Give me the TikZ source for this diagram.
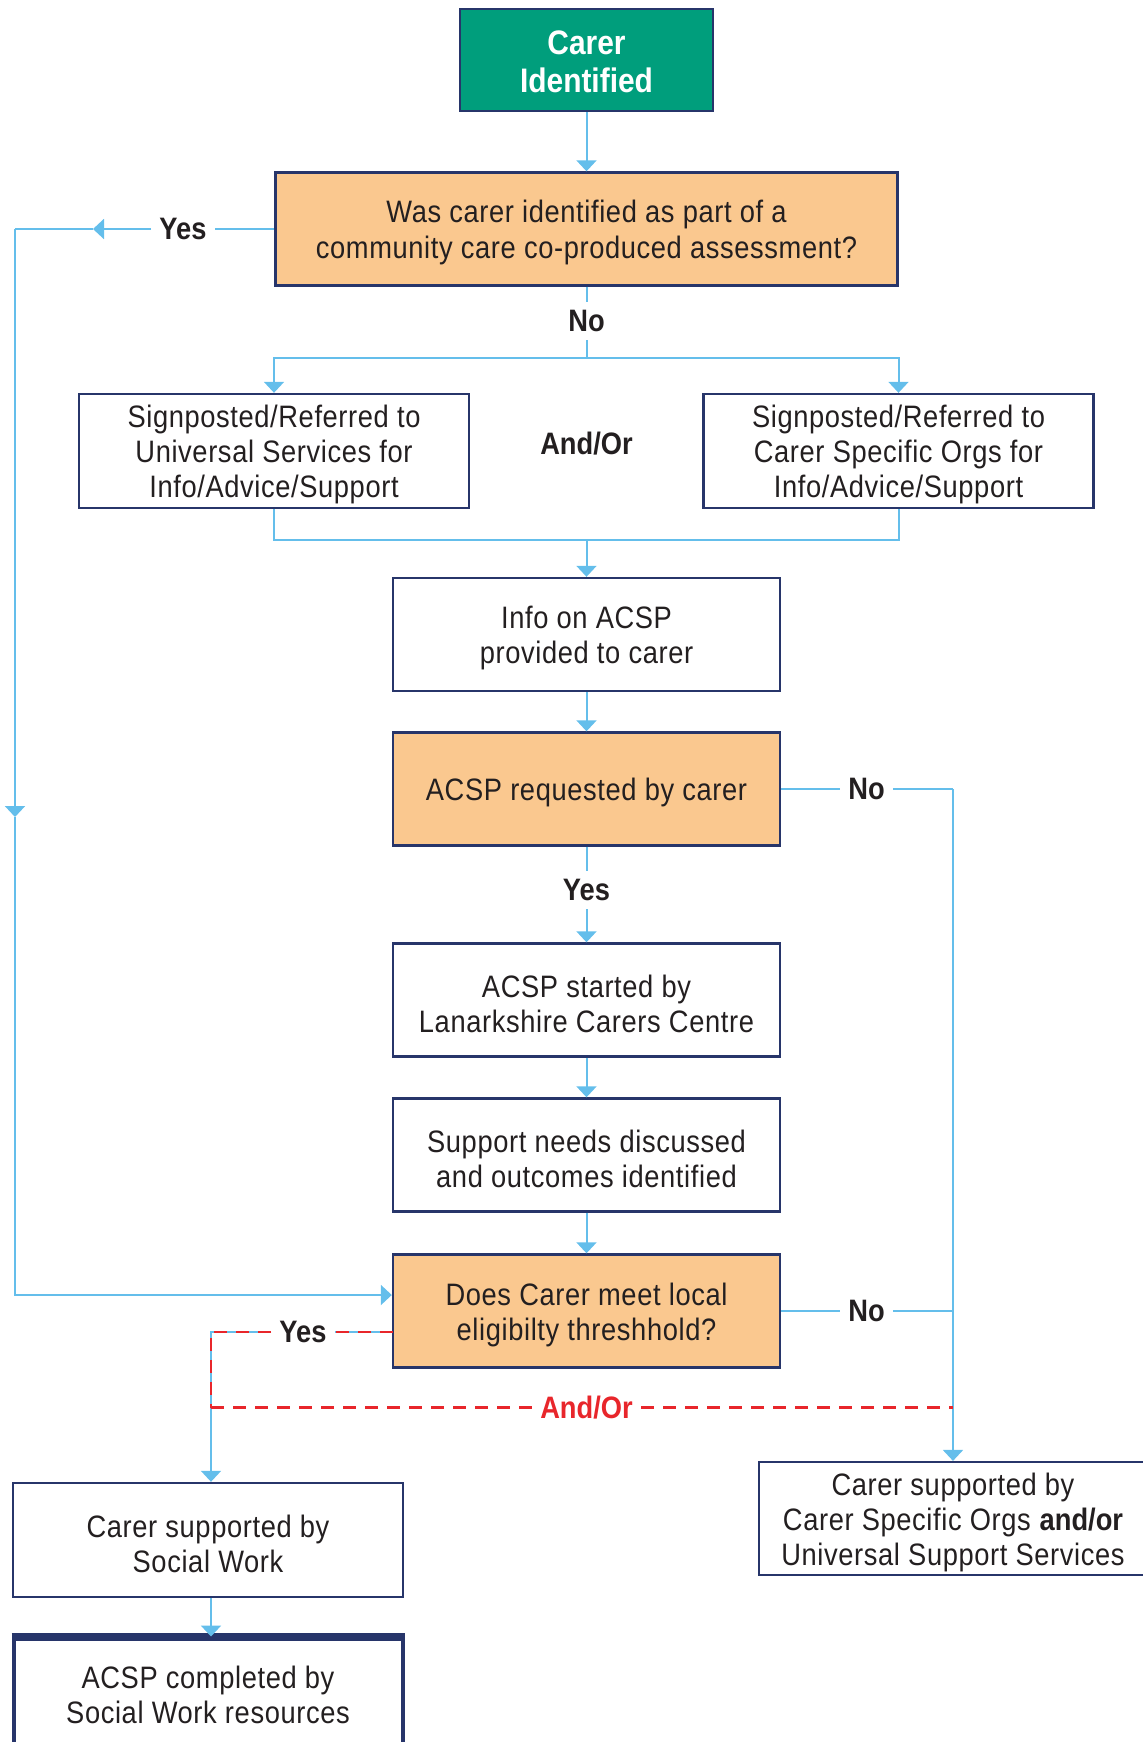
\documentclass[tikz,border=0pt]{standalone}
\usepackage{fontspec}
\setmainfont{Liberation Sans}[FakeStretch=0.88, UprightFeatures={LetterSpace=2}]
\usetikzlibrary{arrows.meta,calc}
\definecolor{navy}{HTML}{27356A}
\definecolor{lblue}{HTML}{64BEEB}
\definecolor{peach}{HTML}{FAC88F}
\definecolor{teal}{HTML}{009E7C}
\definecolor{ink}{HTML}{231F20}
\definecolor{dred}{HTML}{E8262B}
\newcommand\fst{\rule{0pt}{14.8pt}}
\tikzset{
  box/.style={draw=navy, line width=1.2pt, fill=white, align=center, inner sep=0pt,
    text=ink, font=\fontsize{15.5}{17.6}\selectfont,
    minimum width=193.5pt, minimum height=56.5pt},
  obox/.style={box, fill=peach},
  lbl/.style={font=\fontsize{15.5}{17.6}\selectfont\bfseries, text=ink, inner sep=4pt},
  conn/.style={draw=lblue, line width=1pt},
  arr/.style={-{Triangle[length=5.5pt,width=10pt]}},
  rdash/.style={draw=dred, line width=1.1pt, dash pattern=on 6.5pt off 4.5pt},
}
\begin{document}
\begin{tikzpicture}[x=0.5pt,y=-0.5pt]
\useasboundingbox (0,0) rectangle (1142,1742);

% nodes
\node[box, fill=teal, text=white, font=\fontsize{17}{19}\selectfont\bfseries,
  minimum width=126.5pt, minimum height=51pt] (b1) at (586.5,60) {\rule{0pt}{13.6pt}Carer\\Identified};
\node[obox, minimum width=311pt] (b2) at (586.5,229)
  {\fst Was carer identified as part of a\\community care co-produced assessment?};
\node[box, minimum width=195pt, minimum height=57pt] (b3a) at (274,451)
  {\fst Signposted/Referred to\\Universal Services for\\Info/Advice/Support};
\node[box, minimum width=195pt, minimum height=57pt] (b3b) at (898.5,451)
  {\fst Signposted/Referred to\\Carer Specific Orgs for\\Info/Advice/Support};
\node[lbl] (ao1) at (586.5,444) {And/Or};
\node[box] (b4) at (586.5,634.5) {\fst Info on ACSP\\provided to carer};
\node[obox] (b5) at (586.5,789) {\fst ACSP requested by carer};
\node[box] (b6) at (586.5,1000) {\fst ACSP started by\\Lanarkshire Carers Centre};
\node[box] (b7) at (586.5,1155) {\fst Support needs discussed\\and outcomes identified};
\node[obox] (b8) at (586.5,1311) {\fst Does Carer meet local\\eligibilty threshhold?};
\node[box, minimum width=195pt, minimum height=57pt] (b9) at (208,1540)
  {\fst Carer supported by\\Social Work};
\node[box, minimum width=194pt] (b10) at (953,1518.6)
  {\fst Carer supported by\\Carer Specific Orgs \textbf{and/or}\\Universal Support Services};
\node[box, line width=2pt, minimum width=194.5pt] (b11) at (208,1695)
  {ACSP completed by\\Social Work resources};
\draw[navy, line width=3.6pt] (b11.north west) -- (b11.north east);

% labels
\node[lbl] (yes1) at (183,229) {Yes};
\node[lbl] (no1) at (586.5,321) {No};
\node[lbl] (no2) at (866.5,789) {No};
\node[lbl] (yes2) at (586.5,890) {Yes};
\node[lbl] (no3) at (866.5,1311) {No};
\node[lbl] (yes3) at (303,1332) {Yes};
\node[lbl, text=dred] (ao2) at (586.5,1407.5) {And/Or};

% coordinates
\coordinate (yL) at (93,229);
\coordinate (cTL) at (15,229);
\coordinate (cML) at (15,817);
\coordinate (cBL) at (15,1295);
\coordinate (br1) at (586.5,357.7);
\coordinate (mg) at (586.5,540);
\coordinate (cR1) at (953,789);
\coordinate (cR2) at (953,1311);
\coordinate (cR3) at (953,1407.5);
\coordinate (y3s) at (393,1332);
\coordinate (cY) at (211,1332);
\coordinate (cAO) at (211,1407.5);

% connectors
\draw[conn,arr] (b1.south) -- (b2.north);
\draw[conn] (b2.west) -- (yes1);
\draw[conn,arr] (yes1) -- (yL);
\draw[conn] (yL) -- (cTL);
\draw[conn,arr] (cTL) -- (cML);
\draw[conn,arr] (cML) -- (cBL) -- (cBL -| b8.west);

\draw[conn] (b2.south) -- (no1);
\draw[conn] (no1) -- (br1);
\draw[conn,arr] (br1) -| (b3a.north);
\draw[conn,arr] (br1) -| (b3b.north);
\draw[conn] (b3a.south) |- (mg);
\draw[conn] (b3b.south) |- (mg);
\draw[conn,arr] (mg) -- (b4.north);

\draw[conn,arr] (b4.south) -- (b5.north);
\draw[conn] (b5.south) -- (yes2);
\draw[conn,arr] (yes2) -- (b6.north);
\draw[conn,arr] (b6.south) -- (b7.north);
\draw[conn,arr] (b7.south) -- (b8.north);

\draw[conn] (b5.east) -- (no2);
\draw[conn] (no2) -- (cR1);
\draw[conn,arr] (cR1) -- (b10.north);
\draw[conn] (b8.east) -- (no3);
\draw[conn] (no3) -- (cR2);

\draw[conn] (y3s) -- (yes3);
\draw[conn] (yes3) -- (cY) -- (cAO);
\draw[conn,arr] (cAO) -- (cAO |- b9.north);
\draw[rdash] (y3s) -- (yes3);
\draw[rdash] (yes3) -- (cY) -- (cAO);
\draw[rdash] (cAO) -- (ao2);
\draw[rdash] (ao2) -- (cR3);

\draw[conn,arr] (b9.south -| cAO) -- (b11.north -| cAO);
\end{tikzpicture}
\end{document}
